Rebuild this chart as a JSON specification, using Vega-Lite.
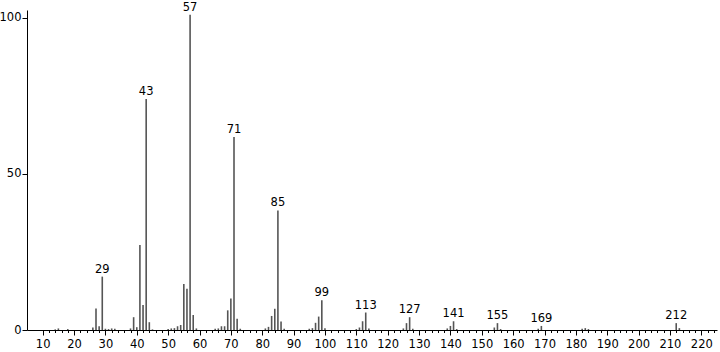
{
  "$schema": "https://vega.github.io/schema/vega-lite/v6.json",
  "width": 690,
  "height": 320,
  "autosize": {"type": "none"},
  "padding": {"left": 27, "top": 10, "right": 3, "bottom": 22},
  "background": "white",
  "config": {
    "view": {"stroke": null},
    "axis": {"labelFont": "DejaVu Sans", "labelFontSize": 11.5, "labelColor": "#000", "domainColor": "#000", "tickColor": "#000", "grid": false, "title": null}
  },
  "data": {"values": [
    {"mz": 14, "i": 0.2}, {"mz": 15, "i": 0.5}, {"mz": 18, "i": 0.3},
    {"mz": 26, "i": 0.8}, {"mz": 27, "i": 6.9}, {"mz": 28, "i": 1.2}, {"mz": 29, "i": 17.1},
    {"mz": 30, "i": 0.4}, {"mz": 31, "i": 0.3}, {"mz": 32, "i": 0.5}, {"mz": 33, "i": 0.4},
    {"mz": 38, "i": 0.5}, {"mz": 39, "i": 4.1}, {"mz": 40, "i": 0.9}, {"mz": 41, "i": 27.2},
    {"mz": 42, "i": 8.0}, {"mz": 43, "i": 74.0}, {"mz": 44, "i": 2.5}, {"mz": 45, "i": 0.2},
    {"mz": 50, "i": 0.3}, {"mz": 51, "i": 0.5}, {"mz": 52, "i": 0.6}, {"mz": 53, "i": 1.2},
    {"mz": 54, "i": 1.6}, {"mz": 55, "i": 14.7}, {"mz": 56, "i": 13.2}, {"mz": 57, "i": 101},
    {"mz": 58, "i": 4.8}, {"mz": 59, "i": 0.5},
    {"mz": 65, "i": 0.4}, {"mz": 66, "i": 0.5}, {"mz": 67, "i": 1.2}, {"mz": 68, "i": 1.2},
    {"mz": 69, "i": 6.3}, {"mz": 70, "i": 10.1}, {"mz": 71, "i": 61.8}, {"mz": 72, "i": 3.6},
    {"mz": 73, "i": 0.4},
    {"mz": 81, "i": 0.5}, {"mz": 82, "i": 1.0}, {"mz": 83, "i": 4.5}, {"mz": 84, "i": 6.8},
    {"mz": 85, "i": 38.3}, {"mz": 86, "i": 2.7}, {"mz": 87, "i": 0.4},
    {"mz": 95, "i": 0.4}, {"mz": 96, "i": 0.6}, {"mz": 97, "i": 2.3}, {"mz": 98, "i": 4.3},
    {"mz": 99, "i": 9.5}, {"mz": 100, "i": 0.6},
    {"mz": 110, "i": 0.3}, {"mz": 111, "i": 0.8}, {"mz": 112, "i": 2.8}, {"mz": 113, "i": 5.6},
    {"mz": 114, "i": 0.5},
    {"mz": 125, "i": 0.5}, {"mz": 126, "i": 2.2}, {"mz": 127, "i": 4.1}, {"mz": 128, "i": 0.4},
    {"mz": 139, "i": 0.5}, {"mz": 140, "i": 1.3}, {"mz": 141, "i": 2.8}, {"mz": 142, "i": 0.3},
    {"mz": 154, "i": 0.8}, {"mz": 155, "i": 2.2}, {"mz": 156, "i": 0.3},
    {"mz": 168, "i": 0.4}, {"mz": 169, "i": 1.3},
    {"mz": 182, "i": 0.4}, {"mz": 183, "i": 0.6}, {"mz": 184, "i": 0.3},
    {"mz": 212, "i": 2.2}, {"mz": 213, "i": 0.6}
  ]},
  "encoding": {
    "x": {"field": "mz", "type": "quantitative",
      "scale": {"domain": [5, 225], "nice": false, "zero": false},
      "axis": {
        "values": [10,12,14,16,18,20,22,24,26,28,30,32,34,36,38,40,42,44,46,48,50,52,54,56,58,60,62,64,66,68,70,72,74,76,78,80,82,84,86,88,90,92,94,96,98,100,102,104,106,108,110,112,114,116,118,120,122,124,126,128,130,132,134,136,138,140,142,144,146,148,150,152,154,156,158,160,162,164,166,168,170,172,174,176,178,180,182,184,186,188,190,192,194,196,198,200,202,204,206,208,210,212,214,216,218,220,222,224],
        "labelExpr": "datum.value % 10 === 0 ? datum.label : ''",
        "tickSize": {"condition": {"test": "datum.value % 10 === 0", "value": 5}, "value": 2.5},
        "labelPadding": 3,
        "labelOverlap": false,
        "labelFlush": false
      }
    },
    "y": {"field": "i", "type": "quantitative",
      "scale": {"domain": [0, 102.5], "nice": false},
      "axis": {"values": [0, 50, 100], "tickSize": 5, "labelPadding": 1}
    }
  },
  "layer": [
    {
      "mark": {"type": "rule", "color": "#555555", "strokeWidth": 1.6},
      "encoding": {"y2": {"datum": 0}}
    },
    {
      "transform": [{"filter": {"field": "mz", "oneOf": [29, 43, 57, 71, 85, 99, 113, 127, 141, 155, 169, 212]}}],
      "mark": {"type": "text", "font": "DejaVu Sans", "fontSize": 11.5, "color": "#000", "baseline": "alphabetic", "dy": -4},
      "encoding": {"text": {"field": "mz", "type": "quantitative"}}
    }
  ]
}
